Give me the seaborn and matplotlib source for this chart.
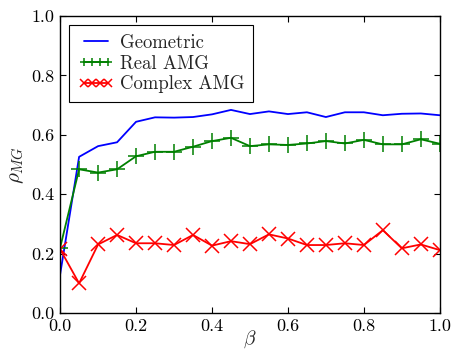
import numpy as np
import pandas as pd
import matplotlib
matplotlib.use("Agg")
import matplotlib.pyplot as plt
import seaborn as sns

beta = [0.0, 0.05, 0.1, 0.15, 0.2, 0.25, 0.3, 0.35, 0.4, 0.45, 0.5,
        0.55, 0.6, 0.65, 0.7, 0.75, 0.8, 0.85, 0.9, 0.95, 1.0]
geometric = [0.13, 0.526, 0.562, 0.575, 0.644, 0.659, 0.658, 0.660, 0.669, 0.684, 0.670,
             0.679, 0.670, 0.676, 0.660, 0.676, 0.676, 0.666, 0.671, 0.672, 0.666]
real_amg = [0.22, 0.484, 0.473, 0.484, 0.528, 0.543, 0.543, 0.560, 0.579, 0.590, 0.562,
            0.568, 0.566, 0.571, 0.579, 0.571, 0.583, 0.568, 0.568, 0.585, 0.570]
complex_amg = [0.215, 0.10, 0.231, 0.263, 0.235, 0.235, 0.229, 0.263, 0.227, 0.242, 0.232,
               0.265, 0.251, 0.229, 0.229, 0.235, 0.229, 0.279, 0.218, 0.231, 0.212]
labels = ["Geometric", "Real AMG", "Complex AMG"]

sns.set_style("white")
plt.rcParams.update({
    "font.family": ["cmr10"],
    "mathtext.fontset": "cm",
    "axes.formatter.use_mathtext": True,
    "axes.unicode_minus": False,
    "font.size": 12,
    "axes.edgecolor": "black",
    "axes.linewidth": 1.0,
    "xtick.direction": "in",
    "ytick.direction": "in",
    "xtick.top": True,
    "ytick.right": True,
    "xtick.bottom": True,
    "ytick.left": True,
    "xtick.major.size": 4,
    "ytick.major.size": 4,
    "xtick.color": "black",
    "ytick.color": "black",
})

df = pd.DataFrame({"beta": beta, "Geometric": geometric,
                   "Real AMG": real_amg, "Complex AMG": complex_amg})

fig = plt.figure(figsize=(4.52, 3.49), dpi=100)
ax = fig.add_axes([0.133, 0.103, 0.840, 0.851])

sns.lineplot(data=df, x="beta", y="Geometric", ax=ax, color="blue", lw=1.3,
             label=labels[0])
sns.lineplot(data=df, x="beta", y="Real AMG", ax=ax, color="green", lw=1.3,
             marker="+", markersize=11, markeredgewidth=1.1,
             markeredgecolor="green", label=labels[1])
sns.lineplot(data=df, x="beta", y="Complex AMG", ax=ax, color="red", lw=1.3,
             marker="x", markersize=10, markeredgewidth=1.1,
             markeredgecolor="red", label=labels[2])

ax.set_xlim(0, 1)
ax.set_ylim(0, 1)
ax.set_xticks([0.0, 0.2, 0.4, 0.6, 0.8, 1.0])
ax.set_yticks([0.0, 0.2, 0.4, 0.6, 0.8, 1.0])
ax.set_xticklabels(["0.0", "0.2", "0.4", "0.6", "0.8", "1.0"])
ax.set_yticklabels(["0.0", "0.2", "0.4", "0.6", "0.8", "1.0"])
ax.tick_params(labelsize=13, pad=4)
ax.set_xlabel(r"$\beta$", fontsize=14, labelpad=-4)
ax.set_ylabel(r"$\rho_{MG}$", fontsize=15, labelpad=4)

leg = ax.legend(loc="upper left", numpoints=4, markerscale=0.55, fancybox=False,
                frameon=True, edgecolor="black", framealpha=1, fontsize=13.5,
                handlelength=1.9, handletextpad=0.35, borderpad=0.45, labelspacing=0.15,
                borderaxespad=0.5)
leg.get_frame().set_linewidth(0.8)

fig.savefig("out.png", dpi=100)
